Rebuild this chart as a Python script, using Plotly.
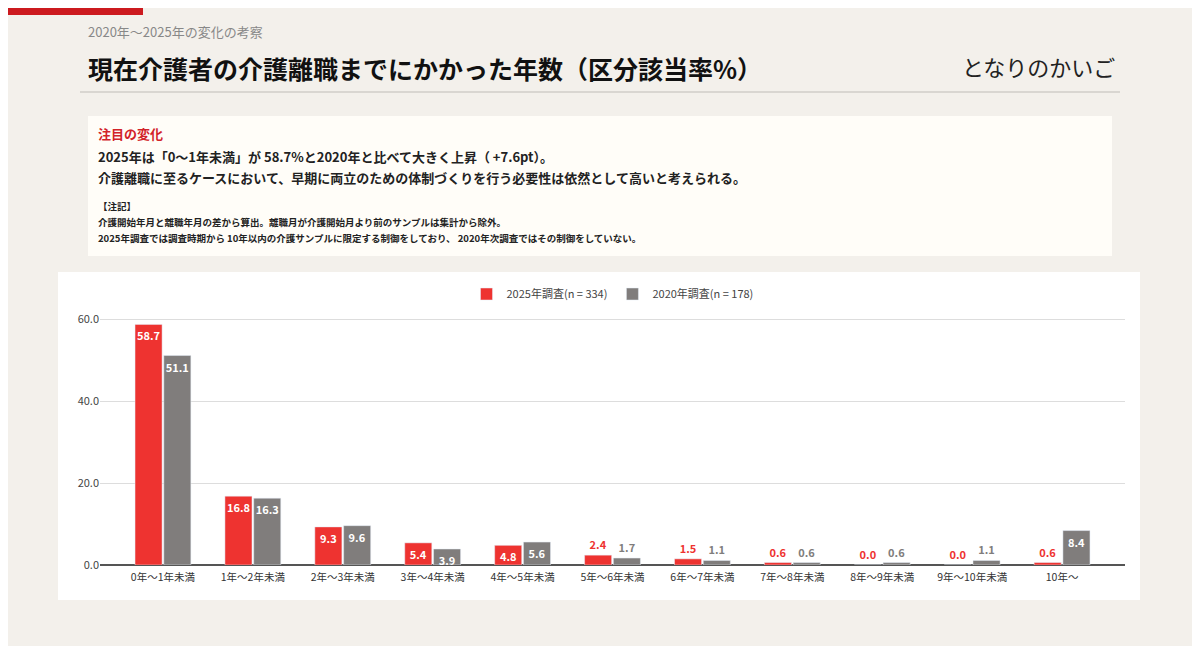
import plotly.graph_objects as go

categories = ["0年～1年未満","1年～2年未満","2年～3年未満","3年～4年未満","4年～5年未満","5年～6年未満","6年～7年未満","7年～8年未満","8年～9年未満","9年～10年未満","10年～"]
v2025 = [58.7,16.8,9.3,5.4,4.8,2.4,1.5,0.6,0.0,0.0,0.6]
v2020 = [51.1,16.3,9.6,3.9,5.6,1.7,1.1,0.6,0.6,1.1,8.4]
y_ticks = [0,20,40,60]

RED = "#ee3330"; GRAY = "#807d7c"
F = "Noto Sans CJK JP"
OFF = 8  # page body margin

def pos(vals):
    return ["inside" if v >= 3 else "outside" for v in vals]

fig = go.Figure()
for name, vals, col in [("2025年調査(n = 334)", v2025, RED), ("2020年調査(n = 178)", v2020, GRAY)]:
    fig.add_trace(go.Bar(
        x=categories, y=vals, name=name, marker_color=col,
        text=[f"{v:.1f}" for v in vals], textposition=pos(vals), textangle=0,
        insidetextanchor="end", constraintext="none", cliponaxis=False,
        insidetextfont=dict(color="white", size=11, family=F),
        outsidetextfont=dict(color=col, size=11, family=F),
        texttemplate="<b>%{text}</b>",
    ))

L, R, T, B = 100 - OFF, 1125 - OFF, 317 - OFF, 565 - OFF
W, H = R - L, B - T
fig.update_layout(
    width=1200, height=646, paper_bgcolor="#f3f0eb", plot_bgcolor="white",
    margin=dict(l=L, r=1200 - R, t=T, b=646 - B),
    barmode="group", bargap=0.36, bargroupgap=0.06,
    font=dict(family=F, size=11, color="#333"),
    showlegend=True,
    legend=dict(orientation="h", x=0.5, xanchor="center", y=1 + (317 - 294) / 248, yanchor="middle",
                font=dict(size=11, color="#444"), bgcolor="rgba(0,0,0,0)"),
    yaxis=dict(range=[0, 60.5], tickvals=y_ticks, ticktext=[f"{t:.1f}" for t in y_ticks],
               gridcolor="#dddddd", zeroline=True, zerolinecolor="#555", zerolinewidth=1.5,
               tickfont=dict(size=11, color="#444"), ticks="", fixedrange=True),
    xaxis=dict(tickfont=dict(size=10.5, color="#333"), showline=False, tickangle=0,
               range=[-0.7, 10.7], ticklabelstandoff=4),
)

def px(x): return (x - 100) / W
def py(y): return (565 - y) / H

fig.update_layout(shapes=[
    dict(type="rect", xref="paper", yref="paper", x0=px(58), x1=px(1140), y0=py(600), y1=py(272),
         fillcolor="white", line_width=0, layer="below"),
    dict(type="rect", xref="paper", yref="paper", x0=px(88), x1=px(1112), y0=py(256), y1=py(116),
         fillcolor="#fffdf8", line_width=0, layer="below"),
    dict(type="rect", xref="paper", yref="paper", x0=px(8), x1=px(143), y0=py(15), y1=py(8),
         fillcolor="#cc1a1f", line_width=0, layer="below"),
    dict(type="line", xref="paper", yref="paper", x0=px(80), x1=px(1120), y0=py(92), y1=py(92),
         line=dict(color="#d9d6d1", width=2)),
])

ann = [
    dict(x=86, y=31, text="2020年～2025年の変化の考察", size=13, color="#888", bold=False),
    dict(x=86, y=68, text="現在介護者の介護離職までにかかった年数（区分該当率%）", size=25, color="#111", bold=True),
    dict(x=96, y=133, text="注目の変化", size=13, color="#d2232a", bold=True),
    dict(x=96, y=156, text="2025年は「0～1年未満」が 58.7%と2020年と比べて大きく上昇（ +7.6pt）。", size=13, color="#222", bold=True),
    dict(x=96, y=177, text="介護離職に至るケースにおいて、早期に両立のための体制づくりを行う必要性は依然として高いと考えられる。", size=13, color="#222", bold=True),
    dict(x=96, y=206, text="【注記】", size=9.5, color="#222", bold=True),
    dict(x=96, y=222, text="介護開始年月と離職年月の差から算出。離職月が介護開始月より前のサンプルは集計から除外。", size=9.5, color="#222", bold=True),
    dict(x=96, y=238, text="2025年調査では調査時期から 10年以内の介護サンプルに限定する制御をしており、 2020年次調査ではその制御をしていない。", size=9.5, color="#222", bold=True),
]
for a in ann:
    t = f"<b>{a['text']}</b>" if a["bold"] else a["text"]
    fig.add_annotation(x=px(a["x"]), y=py(a["y"]), xref="paper", yref="paper", text=t, showarrow=False,
                       xanchor="left", yanchor="middle", font=dict(size=a["size"], color=a["color"], family=F))
fig.add_annotation(x=px(1117), y=py(66), xref="paper", yref="paper", text="となりのかいご", showarrow=False,
                   xanchor="right", yanchor="middle", font=dict(size=22, color="#222", family=F))

fig.write_html("out.html")
